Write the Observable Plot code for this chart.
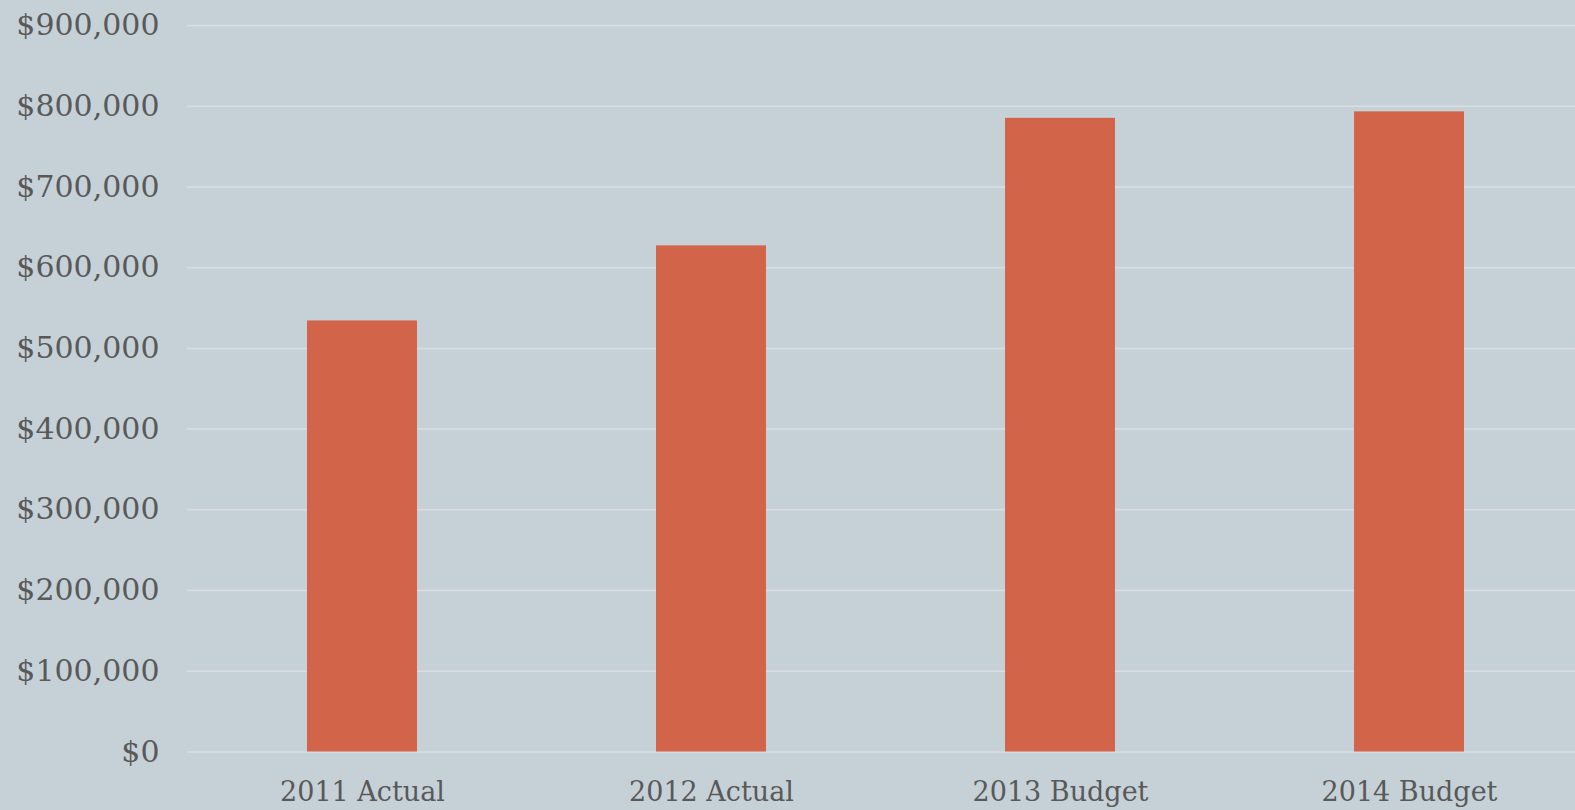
<!DOCTYPE html>
<html>
<head>
<meta charset="utf-8">
<script src="https://cdn.jsdelivr.net/npm/d3@7"></script>
<script src="https://cdn.jsdelivr.net/npm/@observablehq/plot@0.6"></script>
<style>
  html, body { margin: 0; padding: 0; background: #c5d1d7; overflow: hidden; }
  #chart svg { display: block; }
</style>
</head>
<body>
<div id="chart"></div>
<script>
const categories = ["2011 Actual", "2012 Actual", "2013 Budget", "2014 Budget"];
const values = [534000, 627000, 785000, 793000];
const yTicks = [0, 100000, 200000, 300000, 400000, 500000, 600000, 700000, 800000, 900000];

const data = categories.map((c, i) => ({category: c, value: values[i]}));
const fmt = d => "$" + d3.format(",")(d);

const chart = Plot.plot({
  width: 1575,
  height: 810,
  marginTop: 25,
  marginBottom: 58.5,
  marginLeft: 187,
  marginRight: 0,
  style: {
    background: "#c5d1d7",
    color: "#595959",
    fontFamily: "'DejaVu Serif', serif",
    fontSize: "30px"
  },
  x: {domain: categories, range: [187, 1584], paddingInner: 0.685, paddingOuter: 0.3425, label: null},
  y: {domain: [0, 900000], ticks: yTicks, label: null},
  marks: [
    Plot.gridY(yTicks, {stroke: "#d9dee1", strokeOpacity: 1, strokeWidth: 1.5}),
    Plot.barY(data, {x: "category", y: "value", fill: "#d2644a"}),
    Plot.axisY(yTicks, {tickSize: 0, tickPadding: 28, tickFormat: fmt, fontSize: 30, fill: "#595959"}),
    Plot.axisX({tickSize: 0, tickPadding: 30, fontSize: 27, fill: "#595959"})
  ]
});
document.getElementById("chart").appendChild(chart);
</script>
</body>
</html>
